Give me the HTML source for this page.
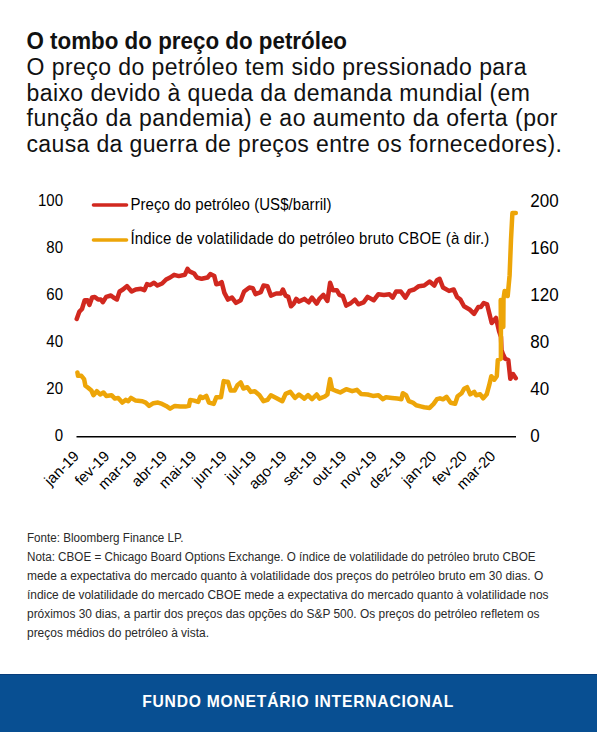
<!DOCTYPE html>
<html><head><meta charset="utf-8">
<style>
html,body{margin:0;padding:0;background:#fff;}
body{width:597px;height:732px;position:relative;overflow:hidden;}
svg{position:absolute;left:0;top:0;}
</style></head><body>
<svg width="597" height="732" viewBox="0 0 597 732" font-family="'Liberation Sans', sans-serif">
<rect x="0" y="674" width="597" height="58" fill="#084f92"/><rect x="0" y="674" width="597" height="1" fill="#073d7b"/>
<text x="26.5" y="49.1" font-size="23.8" fill="#111" font-weight="bold" textLength="320.5" lengthAdjust="spacingAndGlyphs">O tombo do preço do petróleo</text>
<text x="26.5" y="74.5" font-size="23" fill="#111" textLength="500.0" lengthAdjust="spacing">O preço do petróleo tem sido pressionado para</text>
<text x="26.5" y="100.5" font-size="23" fill="#111" textLength="503.5" lengthAdjust="spacing">baixo devido à queda da demanda mundial (em</text>
<text x="26.5" y="126.3" font-size="23" fill="#111" textLength="531.0" lengthAdjust="spacing">função da pandemia) e ao aumento da oferta (por</text>
<text x="26.5" y="152.2" font-size="23" fill="#111" textLength="535.3" lengthAdjust="spacing">causa da guerra de preços entre os fornecedores).</text>
<text x="27" y="541.7" font-size="12.3" fill="#2a2a2a" textLength="156.4" lengthAdjust="spacingAndGlyphs">Fonte: Bloomberg Finance LP.</text>
<text x="27" y="560.6800000000001" font-size="12.3" fill="#2a2a2a" textLength="508.6" lengthAdjust="spacingAndGlyphs">Nota: CBOE = Chicago Board Options Exchange. O índice de volatilidade do petróleo bruto CBOE</text>
<text x="27" y="579.6600000000001" font-size="12.3" fill="#2a2a2a" textLength="516.3" lengthAdjust="spacingAndGlyphs">mede a expectativa do mercado quanto à volatilidade dos preços do petróleo bruto em 30 dias. O</text>
<text x="27" y="598.6400000000001" font-size="12.3" fill="#2a2a2a" textLength="521.5" lengthAdjust="spacingAndGlyphs">índice de volatilidade do mercado CBOE mede a expectativa do mercado quanto à volatilidade nos</text>
<text x="27" y="617.62" font-size="12.3" fill="#2a2a2a" textLength="512.5" lengthAdjust="spacingAndGlyphs">próximos 30 dias, a partir dos preços das opções do S&amp;P 500. Os preços do petróleo refletem os</text>
<text x="27" y="636.6" font-size="12.3" fill="#2a2a2a" textLength="182.0" lengthAdjust="spacingAndGlyphs">preços médios do petróleo à vista.</text>
<g transform="translate(142.2 706.8) scale(0.95 1)"><text x="0" y="0" font-size="16.5" font-weight="bold" fill="#fff" textLength="327.4" lengthAdjust="spacing">FUNDO MONETÁRIO INTERNACIONAL</text></g>
<g font-size="15" fill="#000" text-anchor="end"><text transform="translate(63 205.90) scale(1 1.07)" x="0" y="0">100</text><text transform="translate(63 252.95) scale(1 1.07)" x="0" y="0">80</text><text transform="translate(63 300.00) scale(1 1.07)" x="0" y="0">60</text><text transform="translate(63 347.05) scale(1 1.07)" x="0" y="0">40</text><text transform="translate(63 394.10) scale(1 1.07)" x="0" y="0">20</text><text transform="translate(63 441.15) scale(1 1.07)" x="0" y="0">0</text></g>
<g font-size="17" fill="#000" text-anchor="start"><text transform="translate(530.3 206.60) scale(1 1.1)" x="0" y="0">200</text><text transform="translate(530.3 253.75) scale(1 1.1)" x="0" y="0">160</text><text transform="translate(530.3 300.90) scale(1 1.1)" x="0" y="0">120</text><text transform="translate(530.3 348.05) scale(1 1.1)" x="0" y="0">80</text><text transform="translate(530.3 395.20) scale(1 1.1)" x="0" y="0">40</text><text transform="translate(530.3 442.35) scale(1 1.1)" x="0" y="0">0</text></g>
<line x1="76.5" y1="436.8" x2="516" y2="436.8" stroke="#000" stroke-width="1.5"/>
<path d="M76.7 319.0 L79.4 311.6 L82.0 309.0 L84.7 300.2 L87.4 300.2 L89.4 304.9 L92.1 297.5 L94.8 296.9 L98.1 299.5 L100.8 299.5 L102.8 302.2 L106.2 296.9 L110.9 295.5 L113.5 297.5 L116.9 299.5 L119.6 291.5 L122.9 289.5 L126.9 286.1 L131.6 291.5 L135.7 289.5 L141.0 288.8 L144.4 290.2 L147.0 284.1 L150.0 285.1 L154.0 282.8 L157.4 285.5 L162.1 283.5 L166.1 279.5 L170.1 277.5 L174.1 274.8 L178.8 276.1 L184.8 274.8 L187.5 268.8 L189.5 271.4 L194.2 273.5 L196.9 277.5 L201.6 278.8 L207.6 277.5 L210.3 274.1 L214.3 276.1 L216.3 284.2 L219.7 283.5 L221.7 282.2 L224.4 292.9 L228.0 299.6 L232.0 297.6 L236.0 302.9 L240.7 300.3 L244.1 291.5 L249.4 287.5 L252.8 288.2 L255.5 294.2 L260.8 292.2 L263.5 285.5 L267.5 286.2 L270.9 295.6 L276.2 293.5 L280.9 293.5 L282.9 289.5 L285.6 295.6 L288.3 296.9 L291.0 306.3 L293.7 303.6 L296.3 298.9 L299.0 301.6 L304.4 298.9 L306.0 300.3 L308.7 302.3 L312.0 297.6 L316.7 303.6 L319.4 298.9 L323.4 294.9 L327.4 300.9 L330.1 282.8 L332.8 290.2 L336.8 290.2 L339.5 294.9 L342.9 296.2 L346.2 305.6 L350.2 303.6 L354.9 299.6 L358.3 304.3 L363.6 302.3 L367.6 296.9 L373.7 300.3 L378.4 294.2 L384.0 294.9 L389.4 294.2 L392.7 297.6 L396.1 291.5 L400.8 291.5 L405.4 297.6 L409.5 290.9 L414.2 289.5 L418.8 286.2 L424.2 285.5 L429.6 281.5 L434.3 285.5 L436.9 280.2 L439.6 278.8 L443.0 287.5 L449.0 290.9 L453.7 289.5 L457.0 296.9 L460.4 299.6 L464.0 306.3 L470.0 309.8 L474.1 313.9 L478.2 307.1 L480.9 307.1 L483.7 303.0 L487.1 304.4 L491.7 323.0 L496.0 318.0 L499.0 331.0 L501.0 337.0 L501.5 350.0 L502.8 353.8 L505.2 358.7 L508.3 360.0 L510.3 378.8 L513.0 374.0 L515.8 378.2" fill="none" stroke="#d1281f" stroke-width="4.5" stroke-linejoin="round" stroke-linecap="round"/>
<path d="M77.4 372.4 L78.0 375.8 L81.4 375.8 L84.1 379.1 L85.4 385.8 L88.1 387.8 L91.4 390.5 L93.4 395.2 L96.8 391.2 L100.1 394.5 L103.5 392.5 L106.2 395.9 L111.5 395.2 L114.9 398.6 L118.2 397.9 L122.3 402.6 L125.6 399.9 L128.3 401.2 L131.0 397.9 L135.7 400.6 L142.4 401.2 L145.7 402.6 L149.1 405.9 L153.4 403.2 L158.0 402.6 L162.1 403.9 L166.1 405.9 L170.1 408.6 L174.8 405.9 L180.2 406.6 L185.5 406.6 L188.9 405.9 L190.2 399.9 L194.2 400.6 L198.2 401.9 L200.3 396.5 L202.9 397.9 L206.3 395.9 L209.0 402.6 L213.7 403.9 L216.3 397.2 L221.0 397.2 L223.7 381.1 L226.4 381.8 L228.0 381.8 L230.7 390.5 L234.7 390.5 L237.4 385.2 L240.7 382.5 L243.4 388.5 L247.4 387.2 L250.8 391.9 L254.8 391.2 L259.5 395.2 L263.5 401.2 L267.5 399.9 L270.9 395.2 L276.2 397.9 L282.3 401.2 L285.6 393.9 L290.3 391.9 L295.0 397.9 L299.0 394.5 L304.4 398.6 L308.0 395.2 L312.0 399.2 L316.7 394.5 L319.4 398.6 L324.8 396.5 L327.4 394.5 L330.1 379.1 L332.1 389.2 L336.8 391.2 L340.2 392.5 L346.2 389.2 L352.2 391.2 L356.9 389.8 L361.0 393.9 L367.6 394.5 L373.0 395.9 L378.4 395.2 L383.0 399.2 L386.0 397.2 L392.0 397.9 L397.4 398.6 L401.4 399.2 L402.8 393.2 L406.1 395.2 L408.8 401.2 L412.8 402.6 L416.2 405.3 L421.5 406.6 L424.2 407.3 L429.6 407.9 L433.6 403.9 L436.9 399.2 L440.0 398.3 L443.0 399.3 L446.5 396.8 L450.6 402.8 L455.1 403.8 L457.6 396.3 L461.6 393.3 L464.1 388.7 L467.1 387.2 L470.2 394.3 L474.2 391.8 L476.2 395.3 L480.2 394.3 L483.2 398.3 L486.7 394.3 L489.2 385.2 L491.3 376.2 L494.3 379.7 L496.8 376.2 L497.8 360.1 L500.9 358.7 L500.9 331.0 L500.7 300.0 L503.3 327.0 L503.5 299.0 L504.6 291.0 L507.7 296.0 L509.6 275.2 L511.0 239.6 L512.4 213.0 L515.8 213.0" fill="none" stroke="#eda508" stroke-width="4.5" stroke-linejoin="round" stroke-linecap="round"/>
<line x1="93.5" y1="205" x2="126.5" y2="205" stroke="#d1281f" stroke-width="3.6" stroke-linecap="round"/>
<line x1="93.5" y1="240" x2="126.5" y2="240" stroke="#eda508" stroke-width="3.6" stroke-linecap="round"/>
<g transform="translate(130.5 209.9) scale(1 1.1)"><text x="0" y="0" font-size="15" textLength="201" lengthAdjust="spacing">Preço do petróleo (US$/barril)</text></g>
<g transform="translate(130.5 243.6) scale(1 1.1)"><text x="0" y="0" font-size="15" textLength="358.8" lengthAdjust="spacing">Índice de volatilidade do petróleo bruto CBOE (à dir.)</text></g>
<g font-size="15" fill="#000"><text transform="translate(80.0 457) rotate(-45)" text-anchor="end">jan-19</text><text transform="translate(110.4 457) rotate(-45)" text-anchor="end">fev-19</text><text transform="translate(137.8 457) rotate(-45)" text-anchor="end">mar-19</text><text transform="translate(168.2 457) rotate(-45)" text-anchor="end">abr-19</text><text transform="translate(197.5 457) rotate(-45)" text-anchor="end">mai-19</text><text transform="translate(227.9 457) rotate(-45)" text-anchor="end">jun-19</text><text transform="translate(257.3 457) rotate(-45)" text-anchor="end">jul-19</text><text transform="translate(287.7 457) rotate(-45)" text-anchor="end">ago-19</text><text transform="translate(318.0 457) rotate(-45)" text-anchor="end">set-19</text><text transform="translate(347.4 457) rotate(-45)" text-anchor="end">out-19</text><text transform="translate(377.8 457) rotate(-45)" text-anchor="end">nov-19</text><text transform="translate(407.2 457) rotate(-45)" text-anchor="end">dez-19</text><text transform="translate(437.5 457) rotate(-45)" text-anchor="end">jan-20</text><text transform="translate(467.9 457) rotate(-45)" text-anchor="end">fev-20</text><text transform="translate(496.3 457) rotate(-45)" text-anchor="end">mar-20</text></g>
</svg>
</body></html>
